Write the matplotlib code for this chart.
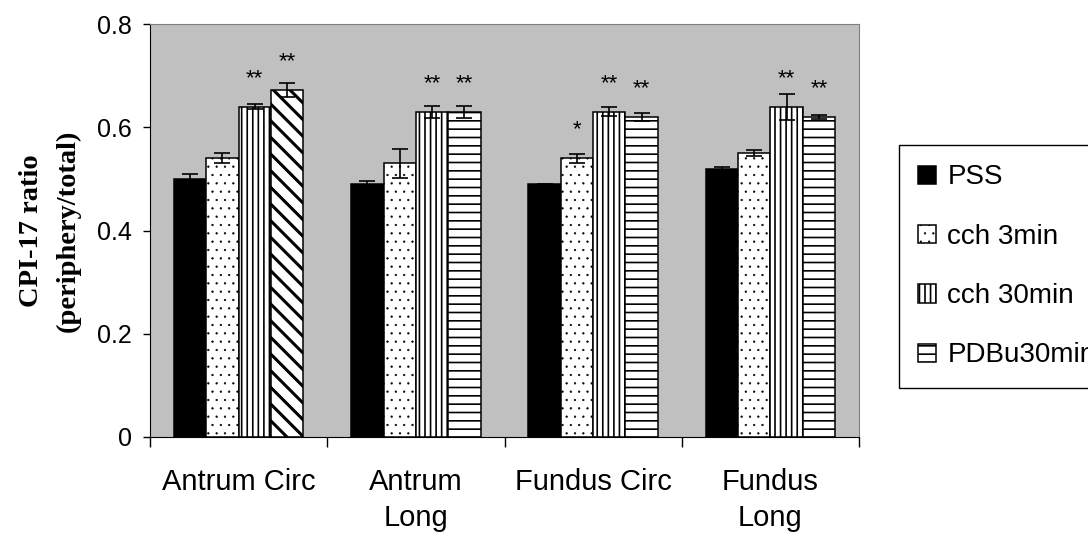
import numpy as np
import matplotlib.pyplot as plt

regions = ["Antrum Circ", "Antrum\nLong", "Fundus Circ", "Fundus\nLong"]
treatments = ["PSS", "cch 3min", "cch 30min", "PDBu30min"]

pss = [0.50, 0.49, 0.49, 0.52]
pss_err = [0.010, 0.005, 0.001, 0.003]
cch3 = [0.54, 0.53, 0.54, 0.55]
cch3_err = [0.010, 0.028, 0.009, 0.006]
cch30 = [0.64, 0.63, 0.63, 0.64]
cch30_err = [0.005, 0.012, 0.009, 0.025]
pdbu = [0.672, 0.63, 0.62, 0.62]
pdbu_err = [0.013, 0.012, 0.007, 0.004]

# significance marks per bar
pss_sig = ["", "", "", ""]
cch3_sig = ["", "", "*", ""]
cch30_sig = ["**", "**", "**", "**"]
pdbu_sig = ["**", "**", "**", "**"]

plt.rcParams["font.family"] = ["Liberation Sans", "DejaVu Sans"]
plt.rcParams["hatch.linewidth"] = 1.2


def thin_dots(patch):
    if hasattr(patch, "set_hatch_linewidth"):
        patch.set_hatch_linewidth(0.4)


fig = plt.figure(figsize=(10.88, 5.33), dpi=100)
ax = fig.add_axes([150 / 1088, 1 - 437 / 533, 709 / 1088, 413 / 533])
ax.set_facecolor("#c0c0c0")

x = np.arange(len(regions))
w = 0.1825
series = [
    (pss, pss_err, pss_sig, "black", ""),
    (cch3, cch3_err, cch3_sig, "white", ".."),
    (cch30, cch30_err, cch30_sig, "white", "|||"),
    (pdbu, pdbu_err, pdbu_sig, "white", "--"),
]

containers = []
for i, (vals, errs, sig, fc, hatch) in enumerate(series):
    pos = x + (i - 1.5) * w
    bars = ax.bar(pos, vals, w, color=fc, edgecolor="black", linewidth=1.1,
                  hatch=hatch, label=treatments[i], zorder=2)
    containers.append(bars)
    ax.errorbar(pos, vals, yerr=errs, fmt="none", ecolor="black",
                elinewidth=1.2, capsize=5.5, capthick=1.2, zorder=3)
    for p, v, s in zip(pos, vals, sig):
        if s:
            ax.text(p, v + 0.044, s, ha="center", va="baseline", fontsize=16)

for b in containers[1]:
    thin_dots(b)

ax.set_xlim(-0.5, 3.5)
ax.set_ylim(0, 0.8)
ax.set_yticks([0, 0.2, 0.4, 0.6, 0.8], ["0", "0.2", "0.4", "0.6", "0.8"])
ax.set_xticks(np.arange(-0.5, 4, 1), [""] * 5)
ax.set_xticks(x, regions, minor=True)
ax.tick_params(axis="x", which="major", length=7, width=1, direction="out")
ax.tick_params(axis="x", which="minor", length=0, pad=22, labelsize=21)
ax.tick_params(axis="y", length=5, width=1, direction="out", labelsize=18, pad=8)
for lab in ax.get_xticklabels(minor=True):
    lab.set_linespacing(1.38)

for side in ["top", "right"]:
    ax.spines[side].set_color("#808080")
for side in ["left", "bottom"]:
    ax.spines[side].set_color("black")

ax.set_ylabel("CPI-17 ratio\n(periphery/total)", fontfamily="Liberation Serif",
              fontweight="bold", fontsize=20.5, labelpad=12, linespacing=1.6)

leg = fig.legend(loc="upper left", bbox_to_anchor=(899 / 1088, 1 - 145 / 533),
                 fontsize=20, frameon=True, fancybox=False, edgecolor="black",
                 framealpha=1, handlelength=0.64, handleheight=0.64,
                 handletextpad=0.4, labelspacing=1.2, borderpad=0.7,
                 borderaxespad=0)
leg.get_frame().set_linewidth(1.0)
thin_dots(leg.get_patches()[1])

# the antrum circular PDBu bar uses a diagonal fill (legend keeps stripes)
containers[3][0].set_hatch("\\\\")
if hasattr(containers[3][0], "set_hatch_linewidth"):
    containers[3][0].set_hatch_linewidth(2.2)

fig.savefig("out.png", dpi=100)
